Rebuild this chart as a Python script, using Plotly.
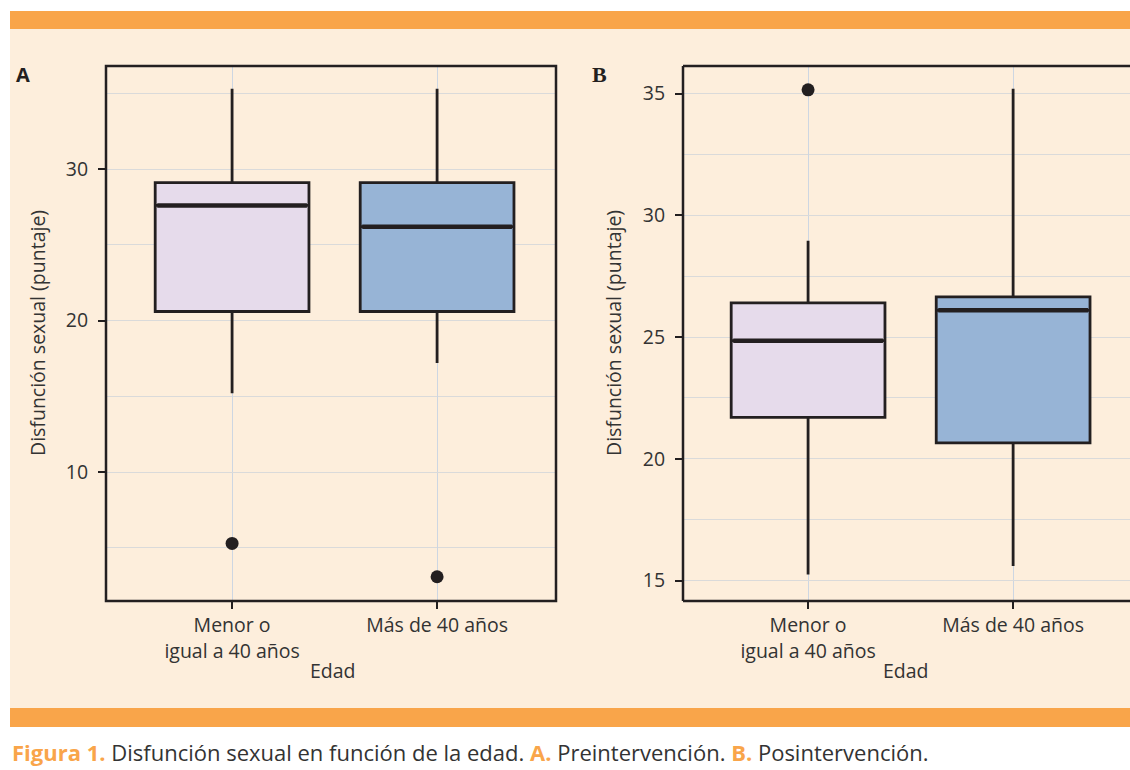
import plotly.graph_objects as go

# ---- data ----
categories = ["Menor o<br>igual a 40 años", "Más de 40 años"]

pre_q1 = [20.6, 20.6]
pre_median = [27.6, 26.2]
pre_q3 = [29.1, 29.1]
pre_lower = [15.2, 17.2]
pre_upper = [35.3, 35.3]
pre_out_cat = [categories[0], categories[1]]
pre_out_val = [5.3, 3.1]

post_q1 = [21.7, 20.65]
post_median = [24.85, 26.1]
post_q3 = [26.4, 26.65]
post_lower = [15.25, 15.6]
post_upper = [28.95, 35.2]
post_out_cat = [categories[0]]
post_out_val = [35.15]

box_colors = ["#E6DBEB", "#97B4D6"]

W, H = 1130, 770
DARK = "#231F20"
PEACH = "#FDEEDC"
ORANGE = "#F9A54A"
FONT = "Open Sans"
FS = 19.5
BOXW = 0.75

fig = go.Figure()

def add_boxes(xa, ya, q1, med, q3, lo, hi):
    for i, c in enumerate(categories):
        fig.add_trace(go.Box(
            x=[c], q1=[q1[i]], median=[med[i]], q3=[q3[i]],
            lowerfence=[lo[i]], upperfence=[hi[i]],
            fillcolor=box_colors[i], line=dict(color=DARK, width=2.8),
            whiskerwidth=0, width=BOXW, boxpoints=False,
            xaxis=xa, yaxis=ya, showlegend=False, hoverinfo="skip"))

add_boxes("x", "y", pre_q1, pre_median, pre_q3, pre_lower, pre_upper)
fig.add_trace(go.Scatter(x=pre_out_cat, y=pre_out_val, mode="markers",
                         marker=dict(color=DARK, size=13), xaxis="x", yaxis="y",
                         showlegend=False))
add_boxes("x2", "y2", post_q1, post_median, post_q3, post_lower, post_upper)
fig.add_trace(go.Scatter(x=post_out_cat, y=post_out_val, mode="markers",
                         marker=dict(color=DARK, size=13), xaxis="x2", yaxis="y2",
                         showlegend=False))

def px(v):
    return min(1.0, v / W)

def py(v):
    return max(0.0, 1 - v / H)

ytop, ybot = py(66), py(601)

xcommon = dict(
    type="category", categoryorder="array", categoryarray=categories,
    showgrid=True, gridcolor="#CDD6E2", gridwidth=1.3,
    ticks="outside", ticklen=7, tickwidth=2, tickcolor=DARK,
    tickfont=dict(family=FONT, size=FS, color="#333333"),
    showline=False, zeroline=False,
)
ycommon = dict(
    showgrid=True, gridcolor="#DADADA", gridwidth=1.3,
    ticks="outside", ticklen=7, tickwidth=2, tickcolor=DARK,
    tickfont=dict(family=FONT, size=FS, color="#333333"),
    ticklabelstandoff=6,
    showline=False, zeroline=False,
)

fig.update_layout(
    width=W, height=H,
    margin=dict(l=0, r=0, t=0, b=0),
    paper_bgcolor="white", plot_bgcolor=PEACH,
    boxgap=0, boxgroupgap=0,
    xaxis=dict(xcommon, domain=[px(106), px(556)], range=[-0.615, 1.58], anchor="y"),
    yaxis=dict(ycommon, domain=[ybot, ytop], range=[1.5, 36.8], anchor="x",
               tickvals=[10, 20, 30],
               minor=dict(tickvals=[5, 15, 25, 35], showgrid=True,
                          gridcolor="#DADADA", gridwidth=1.3, ticks="")),
    xaxis2=dict(xcommon, domain=[px(683), 1.0], range=[-0.61, 1.57], anchor="y2"),
    yaxis2=dict(ycommon, domain=[ybot, ytop], range=[14.16, 36.13], anchor="x2",
                tickvals=[15, 20, 25, 30, 35],
                minor=dict(tickvals=[17.5, 22.5, 27.5, 32.5], showgrid=True,
                           gridcolor="#DADADA", gridwidth=1.3, ticks="")),
)

shapes = []
# peach page background and orange bars
shapes.append(dict(type="rect", xref="paper", yref="paper", layer="below",
                   x0=px(10), x1=1, y0=py(708), y1=py(28),
                   fillcolor=PEACH, line=dict(width=0)))
shapes.append(dict(type="rect", xref="paper", yref="paper", layer="below",
                   x0=px(10), x1=1, y0=py(29), y1=py(11),
                   fillcolor=ORANGE, line=dict(width=0)))
shapes.append(dict(type="rect", xref="paper", yref="paper", layer="below",
                   x0=px(10), x1=1, y0=py(727), y1=py(708),
                   fillcolor=ORANGE, line=dict(width=0)))
# thicker median lines
for xa, ya, med in [("x", "y", pre_median), ("x2", "y2", post_median)]:
    for i, m in enumerate(med):
        shapes.append(dict(type="line", xref=xa, yref=ya,
                           x0=i - BOXW / 2 + 0.01, x1=i + BOXW / 2 - 0.01, y0=m, y1=m,
                           line=dict(color=DARK, width=4.5)))
# panel borders
shapes.append(dict(type="rect", xref="x domain", yref="y domain",
                   x0=0, x1=1, y0=0, y1=1, line=dict(color=DARK, width=2.5)))
for (x0, y0, x1, y1) in [(0, 0, 0, 1), (0, 1, 1, 1), (0, 0, 1, 0)]:
    shapes.append(dict(type="line", xref="x2 domain", yref="y2 domain",
                       x0=x0, x1=x1, y0=y0, y1=y1, line=dict(color=DARK, width=2.5)))
fig.update_layout(shapes=shapes)

ann = []
afont = dict(family=FONT, size=FS, color="#333333")
ann.append(dict(text="A", x=px(23), y=py(75), xref="paper", yref="paper",
                showarrow=False, xanchor="center", yanchor="middle",
                font=dict(family=FONT, size=20, color=DARK, weight="bold")))
ann.append(dict(text="B", x=px(599), y=py(74), xref="paper", yref="paper",
                showarrow=False, xanchor="center", yanchor="middle",
                font=dict(family="Liberation Serif", size=22, color=DARK, weight="bold")))
for xc in [37, 613]:
    ann.append(dict(text="Disfunción sexual (puntaje)", x=px(xc), y=py(333),
                    xref="paper", yref="paper", showarrow=False, textangle=-90,
                    xanchor="center", yanchor="middle", font=afont))
for xc in [333, 906]:
    ann.append(dict(text="Edad", x=px(xc), y=py(670), xref="paper", yref="paper",
                    showarrow=False, xanchor="center", yanchor="middle", font=afont))
cap = ("<span style='color:%s'><b>Figura 1.</b></span> Disfunción sexual en función de la edad. "
       "<span style='color:%s'><b>A.</b></span> Preintervención. "
       "<span style='color:%s'><b>B.</b></span> Posintervención.") % (ORANGE, ORANGE, ORANGE)
ann.append(dict(text=cap, x=px(10), y=py(752), xref="paper", yref="paper",
                showarrow=False, xanchor="left", yanchor="middle",
                font=dict(family=FONT, size=22, color="#333333")))
fig.update_layout(annotations=ann)

fig.write_html("out.html",
               config={"displayModeBar": False},
               post_script="document.body.style.margin='0';"
                           "document.body.style.overflow='hidden';")
